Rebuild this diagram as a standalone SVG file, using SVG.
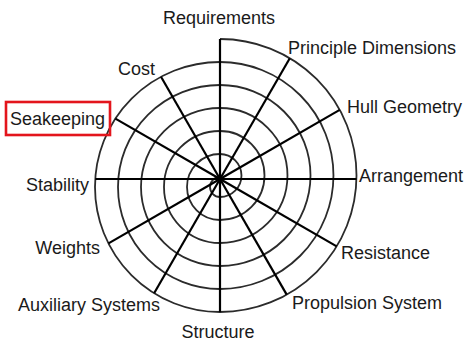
<svg xmlns="http://www.w3.org/2000/svg" width="464" height="342" viewBox="0 0 464 342">
  <style>
    .lbl { font-family: "Liberation Sans", Arial, sans-serif; font-size: 18px; fill: #1a1a1a; }
    .spoke { stroke: #000; stroke-width: 2.2; stroke-linecap: butt; fill: none; }
    .spiral { stroke: #2b2b2b; stroke-width: 1.8; fill: none; }
    .hl { fill: none; stroke: #e3151c; stroke-width: 2.6; }
  </style>
  <rect width="464" height="342" fill="#fff"/>

  <!-- design spiral: alternating half-circles about two nearby centres -->
  <g id="spiral">
    <path class="spiral" d="M220,39 A136.5,136.5 0 0 1 220,312 A125,125 0 0 1 220,62 A113.5,113.5 0 0 1 220,289 A102,102 0 0 1 220,85 A90.5,90.5 0 0 1 220,266 A79,79 0 0 1 220,108 A67.5,67.5 0 0 1 220,243 A56,56 0 0 1 220,131 A44.5,44.5 0 0 1 220,220 A33,33 0 0 1 220,154 A21.5,21.5 0 0 1 220,197 A10,10 0 0 1 220,177"/>
  </g>

  <!-- radial spokes, one every 30 degrees -->
  <g id="connectors">
    <line class="spoke" x1="220" y1="179" x2="220" y2="39"/>
    <line class="spoke" x1="220" y1="179" x2="289.8" y2="58.2"/>
    <line class="spoke" x1="220" y1="179" x2="339.7" y2="109.9"/>
    <line class="spoke" x1="220" y1="179" x2="356.5" y2="179"/>
    <line class="spoke" x1="220" y1="179" x2="336.7" y2="246.4"/>
    <line class="spoke" x1="220" y1="179" x2="286.7" y2="294.6"/>
    <line class="spoke" x1="220" y1="179" x2="220" y2="312"/>
    <line class="spoke" x1="220" y1="179" x2="154.1" y2="293.2"/>
    <line class="spoke" x1="220" y1="179" x2="108.5" y2="243.4"/>
    <line class="spoke" x1="220" y1="179" x2="95.3" y2="179"/>
    <line class="spoke" x1="220" y1="179" x2="115.4" y2="118.6"/>
    <line class="spoke" x1="220" y1="179" x2="161" y2="76.8"/>
  </g>

  <g id="requirements"><text class="lbl" x="219" y="24" text-anchor="middle">Requirements</text></g>
  <g id="principle-dimensions"><text class="lbl" x="288" y="54">Principle Dimensions</text></g>
  <g id="hull-geometry"><text class="lbl" x="347" y="113">Hull Geometry</text></g>
  <g id="arrangement"><text class="lbl" x="359" y="182">Arrangement</text></g>
  <g id="resistance"><text class="lbl" x="341" y="259">Resistance</text></g>
  <g id="propulsion-system"><text class="lbl" x="292" y="309">Propulsion System</text></g>
  <g id="structure"><text class="lbl" x="218" y="338" text-anchor="middle">Structure</text></g>
  <g id="auxiliary-systems"><text class="lbl" x="160" y="311" text-anchor="end">Auxiliary Systems</text></g>
  <g id="weights"><text class="lbl" x="100" y="254" text-anchor="end">Weights</text></g>
  <g id="stability"><text class="lbl" x="89" y="191" text-anchor="end">Stability</text></g>
  <g id="seakeeping">
    <rect class="hl" x="6" y="102" width="104" height="33"/>
    <text class="lbl" x="57.5" y="125" text-anchor="middle">Seakeeping</text>
  </g>
  <g id="cost"><text class="lbl" x="155" y="75" text-anchor="end">Cost</text></g>
</svg>
